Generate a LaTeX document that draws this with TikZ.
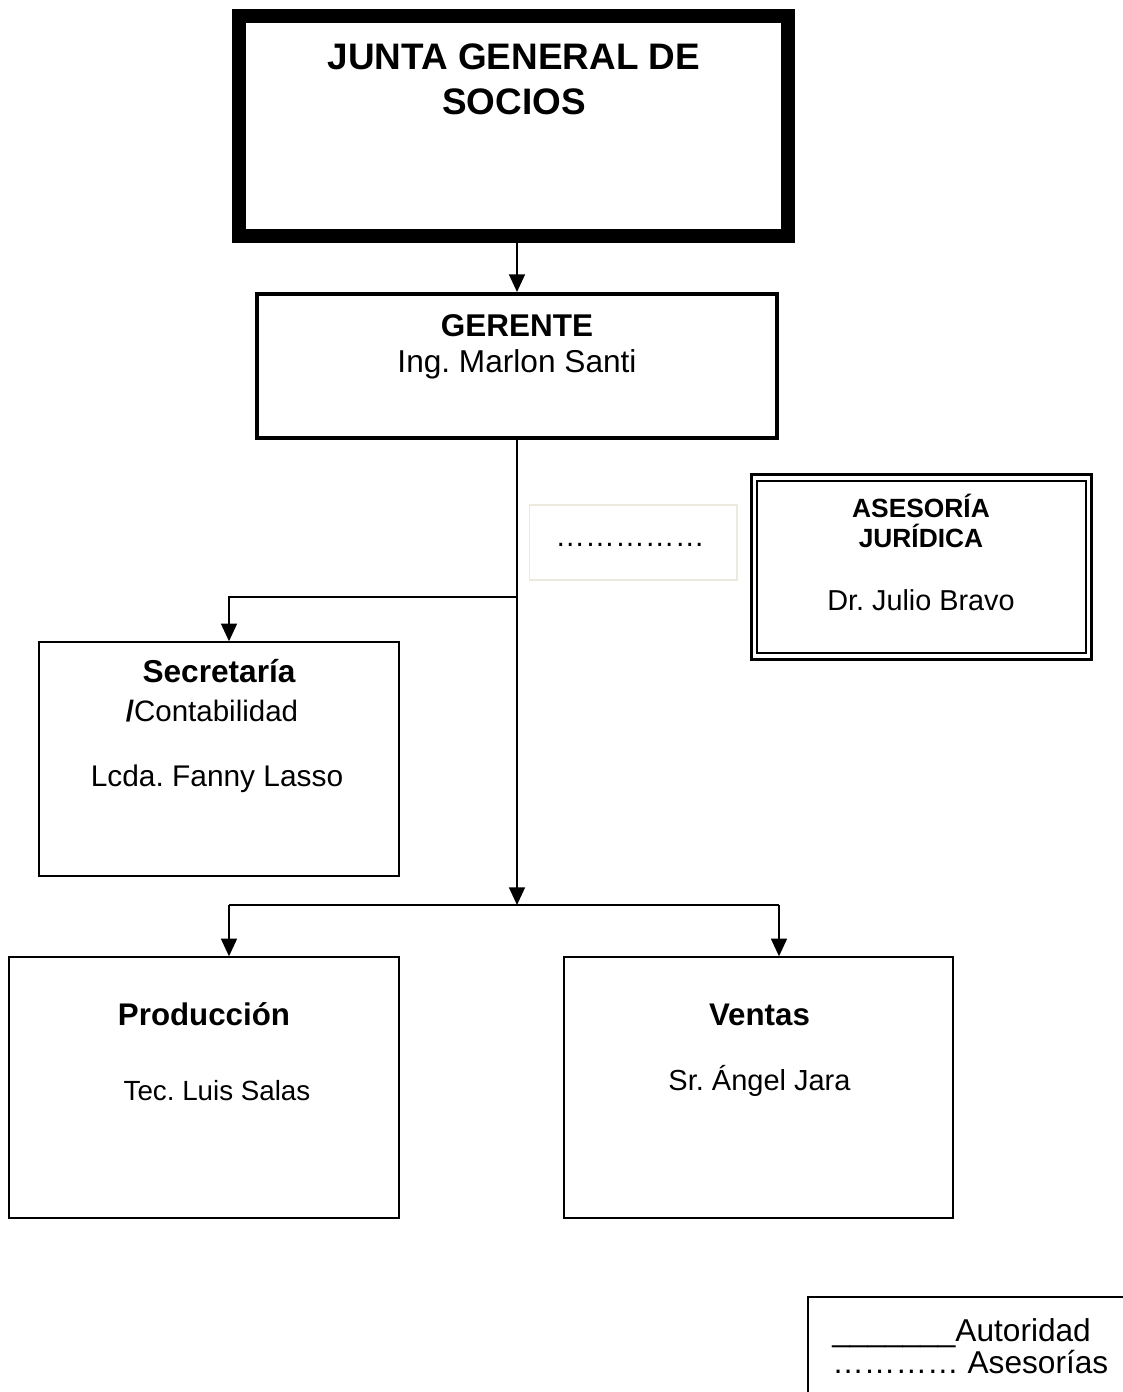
\documentclass[tikz,border=0pt]{standalone}
\usepackage{fontspec}
\setmainfont{Liberation Sans}
\usetikzlibrary{arrows.meta}
\frenchspacing
\newcommand\fs[1]{\fontsize{#1}{#1}\selectfont}
\tikzset{
  box/.style={draw, inner sep=0pt, rectangle},
  txt/.style={anchor=base, inner sep=0pt},
  conn/.style={line width=1.1pt, -{Triangle[length=10pt,width=9pt]}},
  plain/.style={line width=1.1pt},
}
\begin{document}
\begin{tikzpicture}[x=0.02cm,y=-0.02cm]
\useasboundingbox (0,0) rectangle (1122,1392);
% boxes
\node[box, line width=7.9pt, minimum width=10.98cm, minimum height=4.4cm] (junta) at (513.5,126) {};
\node[box, line width=2.3pt, minimum width=10.4cm, minimum height=2.88cm] (gerente) at (517,366) {};
\node[box, line width=0.85pt, minimum width=7.2cm, minimum height=4.68cm] (secre) at (219,759) {};
\node[box, line width=0.85pt, minimum width=7.8cm, minimum height=5.22cm] (prod) at (204,1087.5) {};
\node[box, line width=0.85pt, minimum width=7.78cm, minimum height=5.22cm] (ventas) at (758.5,1087.5) {};
\node[box, line width=1.7pt, minimum width=6.8cm, minimum height=3.69cm] (ases) at (921.5,567) {};
\node[box, line width=0.9pt, minimum width=6.58cm, minimum height=3.44cm] (asesIn) at (921.5,567) {};
\node[box, draw={rgb,255:red,236;green,234;blue,222}, line width=0.6pt, minimum width=4.16cm, minimum height=1.5cm] (dotbox) at (633,542.5) {};
\node[box, line width=0.85pt, minimum width=7cm, minimum height=2.4cm] (legend) at (983,1357) {};
% texts
\node[txt, font=\fs{21}\bfseries] (j1) at (514,70) {JUNTA GENERAL DE};
\node[txt, font=\fs{21}\bfseries] (j2) at (514,115) {SOCIOS};
\node[txt, font=\fs{17.9}\bfseries] (g1) at (517,336) {GERENTE};
\node[txt, font=\fs{18}] (g2) at (517,372) {Ing. Marlon Santi};
\node[txt, font=\fs{18}\bfseries] (s1) at (219,682) {Secretaría};
\node[txt, font=\fs{16.8}] (s2) at (212,721) {\textbf{/}Contabilidad};
\node[txt, font=\fs{17}] (s3) at (217,786) {Lcda. Fanny Lasso};
\node[txt, font=\fs{15}\bfseries] (a1) at (921,517) {ASESORÍA};
\node[txt, font=\fs{15}\bfseries] (a2) at (921,547) {JURÍDICA};
\node[txt, font=\fs{16.4}] (a3) at (921,610) {Dr. Julio Bravo};
\node[txt, font=\fs{17.8}\bfseries] (p1) at (204,1025) {Producción};
\node[txt, font=\fs{15.8}] (p2) at (217,1100) {Tec. Luis Salas};
\node[txt, font=\fs{17.8}\bfseries] (v1) at (759.5,1025) {Ventas};
\node[txt, font=\fs{16.5}] (v2) at (759.5,1090) {Sr. Ángel Jara};
\node[txt, font=\fs{17}] (dots) at (630,546) {……………};
\node[txt, anchor=base west, font=\fs{18}] (l1) at (832,1341) {\_\_\_\_\_\_\_Autoridad};
\node[txt, anchor=base west, font=\fs{18}] (l2) at (832,1373) {………… Asesorías};
% connectors
\draw[conn] (gerente.north |- junta.south) -- (gerente.north);
\coordinate (split) at (517,905);
\coordinate (secb) at (517,597);
\coordinate (secc) at (229,597);
\coordinate (pl) at (229,905);
\coordinate (vr) at (779,905);
\draw[conn] (gerente.south) -- (split);
\draw[conn] (secb) -- (secc) -- (secc |- secre.north);
\draw[plain] (pl) -- (vr);
\draw[conn] (pl) -- (pl |- prod.north);
\draw[conn] (vr) -- (vr |- ventas.north);
\end{tikzpicture}
\end{document}
